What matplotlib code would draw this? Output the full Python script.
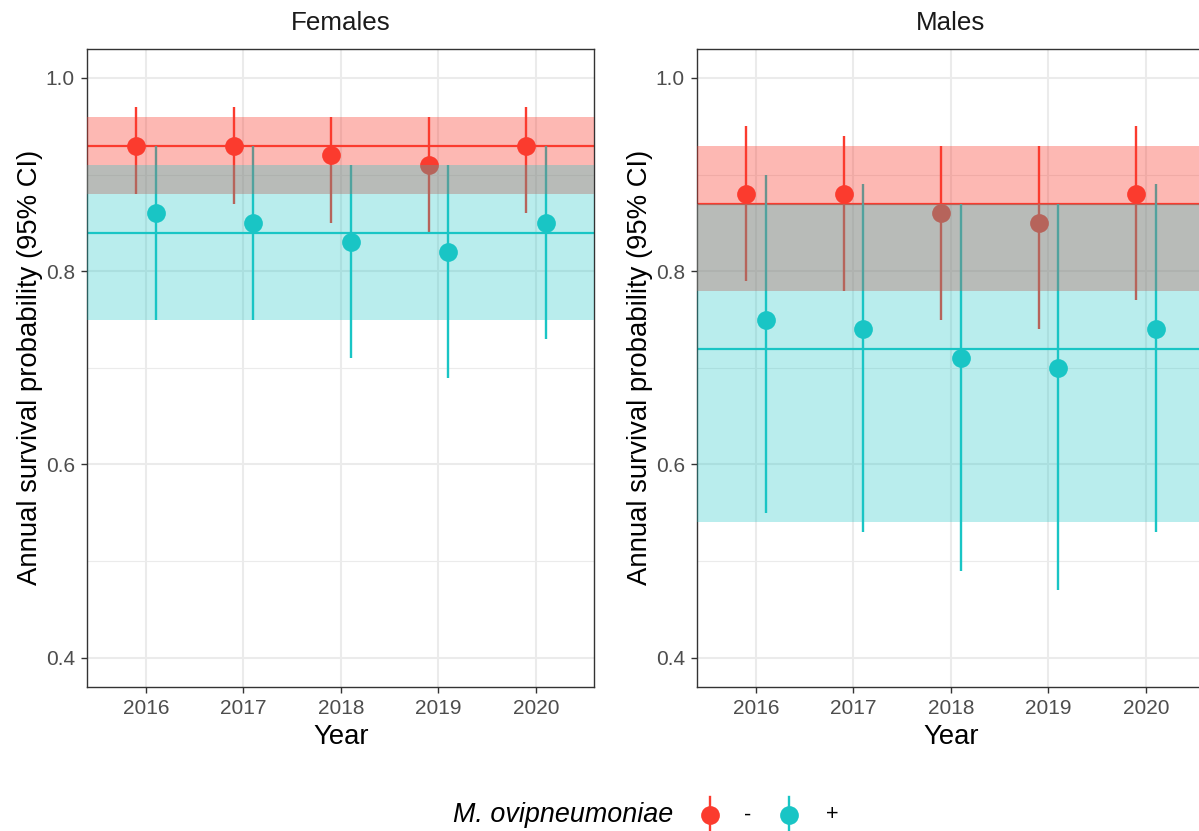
import matplotlib
matplotlib.use("Agg")
import matplotlib.pyplot as plt
from matplotlib.lines import Line2D
import numpy as np

plt.rcParams['font.family'] = ['Liberation Sans', 'DejaVu Sans']

years = np.array([2016, 2017, 2018, 2019, 2020])
dodge = 0.1

# yearly estimates with 95% CI, M. ovi negative (-) and positive (+)
fem_neg_est = [0.93, 0.93, 0.92, 0.91, 0.93]
fem_neg_lo = [0.88, 0.87, 0.85, 0.84, 0.86]
fem_neg_hi = [0.97, 0.97, 0.96, 0.96, 0.97]
fem_pos_est = [0.86, 0.85, 0.83, 0.82, 0.85]
fem_pos_lo = [0.75, 0.75, 0.71, 0.69, 0.73]
fem_pos_hi = [0.93, 0.93, 0.91, 0.91, 0.93]

male_neg_est = [0.88, 0.88, 0.86, 0.85, 0.88]
male_neg_lo = [0.79, 0.78, 0.75, 0.74, 0.77]
male_neg_hi = [0.95, 0.94, 0.93, 0.93, 0.95]
male_pos_est = [0.75, 0.74, 0.71, 0.70, 0.74]
male_pos_lo = [0.55, 0.53, 0.49, 0.47, 0.53]
male_pos_hi = [0.90, 0.89, 0.87, 0.87, 0.89]

# overall (all-years) estimate, lower, upper
fem_neg_all = [0.93, 0.88, 0.96]
fem_pos_all = [0.84, 0.75, 0.91]
male_neg_all = [0.87, 0.78, 0.93]
male_pos_all = [0.72, 0.54, 0.87]

red = '#FB3B2E'
cyan = '#19C5C5'

W, H = 1199, 831
fig = plt.figure(figsize=(W / 100, H / 100), dpi=100)

panel_w = 507 / W
panel_b = (H - 686.7) / H
panel_h = (686.7 - 49) / H
ax_f = fig.add_axes([87.3 / W, panel_b, panel_w, panel_h])
ax_m = fig.add_axes([697.3 / W, panel_b, panel_w, panel_h])


def draw_panel(ax, title, neg, pos, neg_all, pos_all):
    for (est, lo, hi), allv, col, off in ((neg, neg_all, red, -dodge),
                                         (pos, pos_all, cyan, dodge)):
        x = years + off
        ax.vlines(x, lo, hi, color=col, lw=1.7, zorder=2)
        ax.plot(x, est, 'o', ms=13.5, color=col, mew=0, zorder=2.5)
        ax.axhline(allv[0], color=col, lw=1.6, zorder=2)
    # CI bands sit over the points, like the original layer order
    ax.axhspan(neg_all[1], neg_all[2], color=red, alpha=0.36, lw=0, zorder=3)
    ax.axhspan(pos_all[1], pos_all[2], color=cyan, alpha=0.30, lw=0, zorder=3.1)

    ax.set_xlim(2015.4, 2020.6)
    ax.set_ylim(0.37, 1.03)
    ax.set_xticks(years)
    ax.set_yticks([0.4, 0.6, 0.8, 1.0])
    ax.set_yticks([0.5, 0.7, 0.9], minor=True)
    ax.set_yticklabels(['0.4', '0.6', '0.8', '1.0'])
    ax.set_axisbelow(True)
    ax.grid(which='major', color='#EBEBEB', lw=1.5, zorder=0)
    ax.grid(which='minor', axis='y', color='#EBEBEB', lw=0.8, zorder=0)
    ax.tick_params(which='major', length=4, width=1, color='#333333',
                   labelsize=15, labelcolor='#4D4D4D', pad=5)
    ax.tick_params(which='minor', length=0)
    for s in ax.spines.values():
        s.set_color('#333333')
        s.set_linewidth(1.0)
    ax.set_title(title, fontsize=18.7, color='#1A1A1A', pad=14)
    ax.set_xlabel('Year', fontsize=19.8, va='center')
    ax.set_ylabel('Annual survival probability (95% CI)', fontsize=19.8,
                  va='center')
    ax.xaxis.set_label_coords(0.5, -(737 - 686.7) / (686.7 - 49))
    ax.yaxis.set_label_coords(-(87.3 - 30) / 507, 0.5)


draw_panel(ax_f, 'Females', (fem_neg_est, fem_neg_lo, fem_neg_hi),
           (fem_pos_est, fem_pos_lo, fem_pos_hi), fem_neg_all, fem_pos_all)
draw_panel(ax_m, 'Males', (male_neg_est, male_neg_lo, male_neg_hi),
           (male_pos_est, male_pos_lo, male_pos_hi), male_neg_all, male_pos_all)

# legend along the bottom
ly = 1 - 815 / H
fig.text(453 / W, ly, 'M. ovipneumoniae', style='italic', fontsize=19.4,
         ha='left', va='center')
for kx, col, lab, tx in ((710, red, '-', 748), (789, cyan, '+', 832)):
    fig.add_artist(Line2D([kx / W, kx / W], [1 - 797 / H, 0], color=col,
                          lw=1.7, transform=fig.transFigure))
    fig.add_artist(Line2D([kx / W], [ly], marker='o', ms=13.5, mew=0,
                          color=col, transform=fig.transFigure))
    fig.text(tx / W, ly, lab, fontsize=15.5, ha='center', va='center')

fig.savefig('out.png', dpi=100)
